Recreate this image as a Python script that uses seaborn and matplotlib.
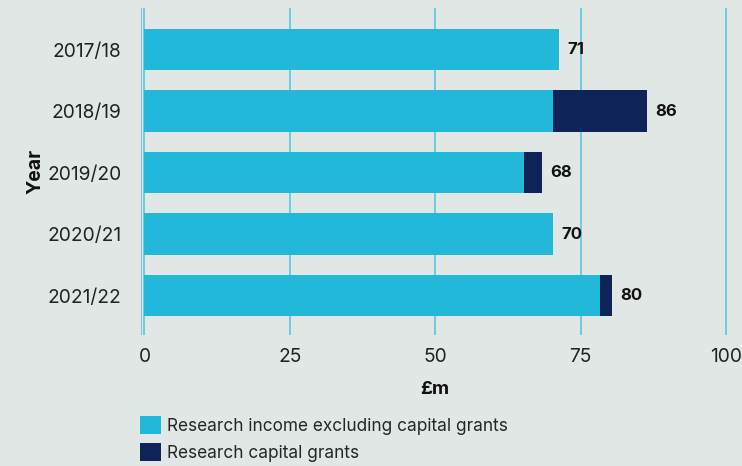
import pandas as pd
import seaborn as sns
import matplotlib.pyplot as plt
from matplotlib.patches import Patch

# Datos (£m)
years = ["2017/18", "2018/19", "2019/20", "2020/21", "2021/22"]
income_excl_capital = [71.2, 70.2, 65.3, 70.2, 78.3]
capital_grants = [0.0, 16.2, 3.0, 0.0, 2.0]
total_labels = ["71", "86", "68", "70", "80"]

CYAN = "#21b8da"
NAVY = "#0e2459"
GRID = "#4cc6e0"
BG = "#e1e7e5"

df = pd.DataFrame({
    "Year": years,
    "income": income_excl_capital,
    "capital": capital_grants,
})
df["total"] = df["income"] + df["capital"]

sns.set_theme(style="white")
plt.rcParams["font.family"] = ["Inter", "DejaVu Sans"]

fig = plt.figure(figsize=(7.42, 4.66), dpi=100)
fig.patch.set_facecolor(BG)
ax = fig.add_axes([141 / 742, (466 - 335) / 466, 588 / 742, 327 / 466])
ax.set_facecolor(BG)

# Barras apiladas: total (oscuro) debajo, ingresos (cian) encima
sns.barplot(data=df, x="total", y="Year", color=NAVY, width=0.67,
            orient="h", ax=ax, saturation=1, linewidth=0)
sns.barplot(data=df, x="income", y="Year", color=CYAN, width=0.67,
            orient="h", ax=ax, saturation=1, linewidth=0)

for i, (tot, lab) in enumerate(zip(df["total"], total_labels)):
    ax.annotate(lab, (tot, i), xytext=(6, 0), textcoords="offset points",
                ha="left", va="center", fontsize=12, fontweight="bold",
                color="#111111")

ax.set_xlim(-0.6, 100.5)
ax.set_ylim(4.64, -0.675)
ax.set_xticks([0, 25, 50, 75, 100])
for xv in [0, 25, 50, 75, 100]:
    ax.axvline(xv, color=GRID, lw=1.1, zorder=0)
ax.axvline(-0.6, color=GRID, lw=1.1, zorder=0)

for s in ax.spines.values():
    s.set_visible(False)

ax.tick_params(axis="y", length=0, pad=14, labelsize=13.8, labelcolor="#222222")
ax.tick_params(axis="x", length=0, pad=9, labelsize=13.8, labelcolor="#222222")
ax.set_xlabel("£m", fontsize=13.5, fontweight="bold", labelpad=11, color="#111111")
ax.set_ylabel("Year", fontsize=14, fontweight="bold", labelpad=2, color="#111111")

handles = [Patch(facecolor=CYAN, edgecolor="none"),
           Patch(facecolor=NAVY, edgecolor="none")]
fig.legend(handles, ["Research income excluding capital grants",
                     "Research capital grants"],
           loc="upper left", bbox_to_anchor=(140 / 742, 1 - 416 / 466),
           frameon=False, fontsize=12.4, handlelength=1.22, handleheight=1.25,
           handletextpad=0.35, labelspacing=0.45, borderaxespad=0,
           borderpad=0)

fig.savefig("out.png", dpi=100, facecolor=BG)
